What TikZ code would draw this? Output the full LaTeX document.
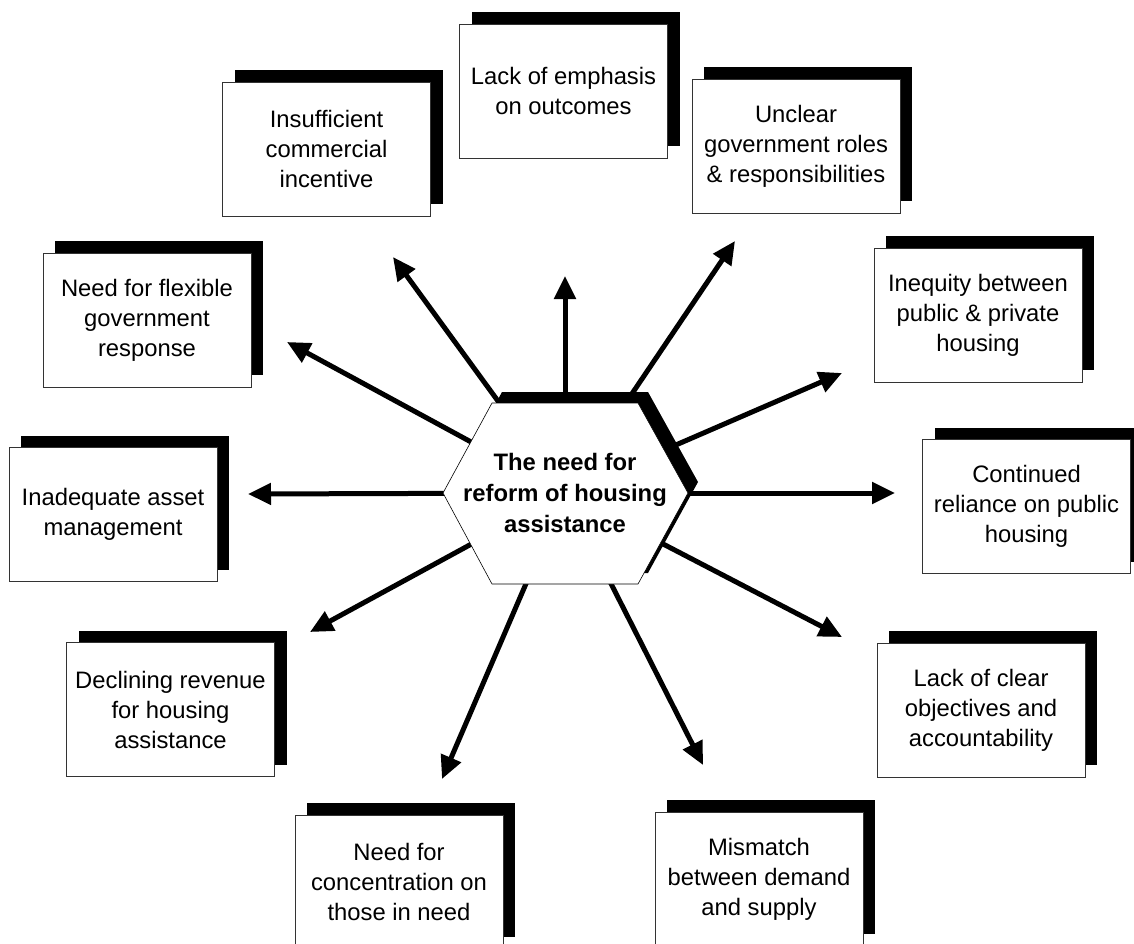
\documentclass[tikz,border=0pt]{standalone}
\usepackage{fontspec}
\setmainfont{Liberation Sans}
\usetikzlibrary{arrows.meta,shadows}
\pgfdeclarelayer{background}
\pgfsetlayers{background,main}
\tikzset{
  issue/.style={draw=black!80, line width=0.8pt, fill=white,
    minimum width=208pt, minimum height=134pt, inner sep=0pt,
    align=center, font=\fontsize{23.8}{30}\selectfont,
    general shadow={shadow xshift=12pt, shadow yshift=12pt, fill=black}},
  spoke/.style={line width=5pt, -{Triangle[length=23pt,width=21pt]}},
  hexshadow/.style={fill=black},
  hexbody/.style={fill=white, draw=black, line width=0.6pt},
  hubtext/.style={font=\bfseries\fontsize{23.8}{31}\selectfont, align=center}
}
\begin{document}
\begin{tikzpicture}[x=1pt,y=-1pt]
\useasboundingbox (0,0) rectangle (1134,944);
\clip (0,0) rectangle (1134,944);

% issue boxes
\node[issue] (emph)   at (563.5,91)  {Lack of emphasis\\on outcomes};
\node[issue] (insuf)  at (326.5,149) {Insufficient\\commercial\\incentive};
\node[issue] (unclr)  at (796,146)   {Unclear\\government roles\\\& responsibilities};
\node[issue] (flex)   at (147,320)   {Need for flexible\\government\\response};
\node[issue] (ineq)   at (978,315)   {Inequity between\\public \& private\\housing};
\node[issue] (inad)   at (113,514.5) {Inadequate asset\\management};
\node[issue] (cont)   at (1026.5,506.5) {Continued\\reliance on public\\housing};
\node[issue] (decl)   at (170.5,709.5) {Declining revenue\\for housing\\assistance};
\node[issue] (lackc)  at (981,710)   {Lack of clear\\objectives and\\accountability};
\node[issue] (conc)   at (399,882)   {Need for\\concentration on\\those in need};
\node[issue] (mism)   at (759,879)   {Mismatch\\between demand\\and supply};

% arrow tips
\coordinate (tEmph)  at (565,276);
\coordinate (tInsuf) at (393,257);
\coordinate (tUnclr) at (735,241);
\coordinate (tFlex)  at (287,342);
\coordinate (tIneq)  at (842,373);
\coordinate (tInad)  at (248,494);
\coordinate (tCont)  at (895,493);
\coordinate (tDecl)  at (310,632);
\coordinate (tLackc) at (842,637);
\coordinate (tConc)  at (442,779);
\coordinate (tMism)  at (703,765);

% central hexagon
\begin{scope}[shift={(10,-11)}]
  \fill[hexshadow] (443,493) -- (492,403) -- (638,403) -- (688,493) -- (638,584) -- (492,584) -- cycle;
\end{scope}
\draw[hexbody] (443,493) -- (492,403) -- (638,403) -- (688,493) -- (638,584) -- (492,584) -- cycle;
\node[hubtext] (hub) at (565,493) {The need for\\reform of housing\\assistance};

\begin{pgfonlayer}{background}
\draw[spoke] (hub.center) -- (tEmph);
\draw[spoke] (hub.center) -- (tInsuf);
\draw[spoke] (hub.center) -- (tUnclr);
\draw[spoke] (hub.center) -- (tFlex);
\draw[spoke] (hub.center) -- (tIneq);
\draw[spoke] (hub.center) -- (tInad);
\draw[spoke] (hub.center) -- (tCont);
\draw[spoke] (hub.center) -- (tDecl);
\draw[spoke] (hub.center) -- (tLackc);
\draw[spoke] (hub.center) -- (tConc);
\draw[spoke] (hub.center) -- (tMism);
\end{pgfonlayer}
\end{tikzpicture}
\end{document}
